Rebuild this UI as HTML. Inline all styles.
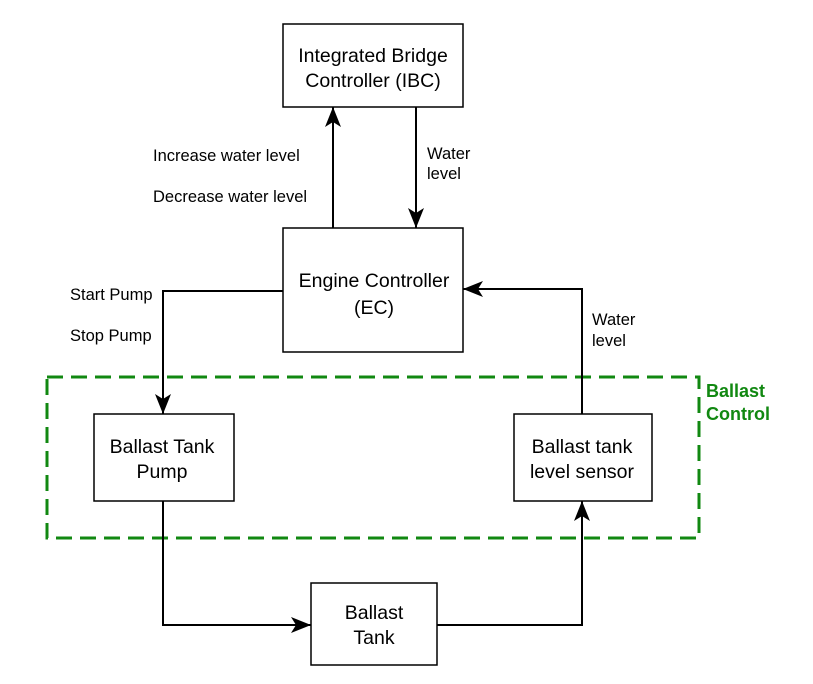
<!DOCTYPE html>
<html><head><style>body{margin:0;background:#fff}</style></head><body>
<svg width="813" height="679" xmlns="http://www.w3.org/2000/svg" font-family="Liberation Sans, sans-serif">
<defs>
<marker id="a" viewBox="0 0 20 16" refX="20" refY="8" markerWidth="20" markerHeight="16" markerUnits="userSpaceOnUse" orient="auto">
<path d="M0,0 L20,8 L0,16 L5,8 Z" fill="#000"/></marker>
</defs>
<rect x="47" y="377" width="652" height="161" fill="none" stroke="#118811" stroke-width="3" stroke-dasharray="16,8"/>
<text x="706" y="397" font-size="18" font-weight="bold" fill="#118811">Ballast</text>
<text x="706" y="420" font-size="18" font-weight="bold" fill="#118811">Control</text>
<g fill="#fff" stroke="#000" stroke-width="1.5">
<rect x="283" y="24" width="180" height="83"/>
<rect x="283" y="228" width="180" height="124"/>
<rect x="94" y="414" width="140" height="87"/>
<rect x="514" y="414" width="138" height="87"/>
<rect x="311" y="583" width="126" height="82"/>
</g>
<g fill="none" stroke="#000" stroke-width="2">
<path d="M333,228 V107" marker-end="url(#a)"/>
<path d="M416,107 V228" marker-end="url(#a)"/>
<path d="M283,291 H163 V414" marker-end="url(#a)"/>
<path d="M163,501 V625 H311" marker-end="url(#a)"/>
<path d="M437,625 H582 V501" marker-end="url(#a)"/>
<path d="M582,414 V289 H463" marker-end="url(#a)"/>
</g>
<g font-size="19.5" text-anchor="middle" fill="#000">
<text x="373" y="62">Integrated Bridge</text>
<text x="373" y="87">Controller (IBC)</text>
<text x="374" y="287">Engine Controller</text>
<text x="374" y="314">(EC)</text>
<text x="162" y="453">Ballast Tank</text>
<text x="162" y="478">Pump</text>
<text x="582" y="453">Ballast tank</text>
<text x="582" y="478">level sensor</text>
<text x="374" y="619">Ballast</text>
<text x="374" y="644">Tank</text>
</g>
<g font-size="16.5" fill="#000">
<text x="153" y="161">Increase water level</text>
<text x="153" y="202">Decrease water level</text>
<text x="427" y="159">Water</text>
<text x="427" y="179">level</text>
<text x="70" y="300">Start Pump</text>
<text x="70" y="341">Stop Pump</text>
<text x="592" y="325">Water</text>
<text x="592" y="346">level</text>
</g>
</svg>
</body></html>
